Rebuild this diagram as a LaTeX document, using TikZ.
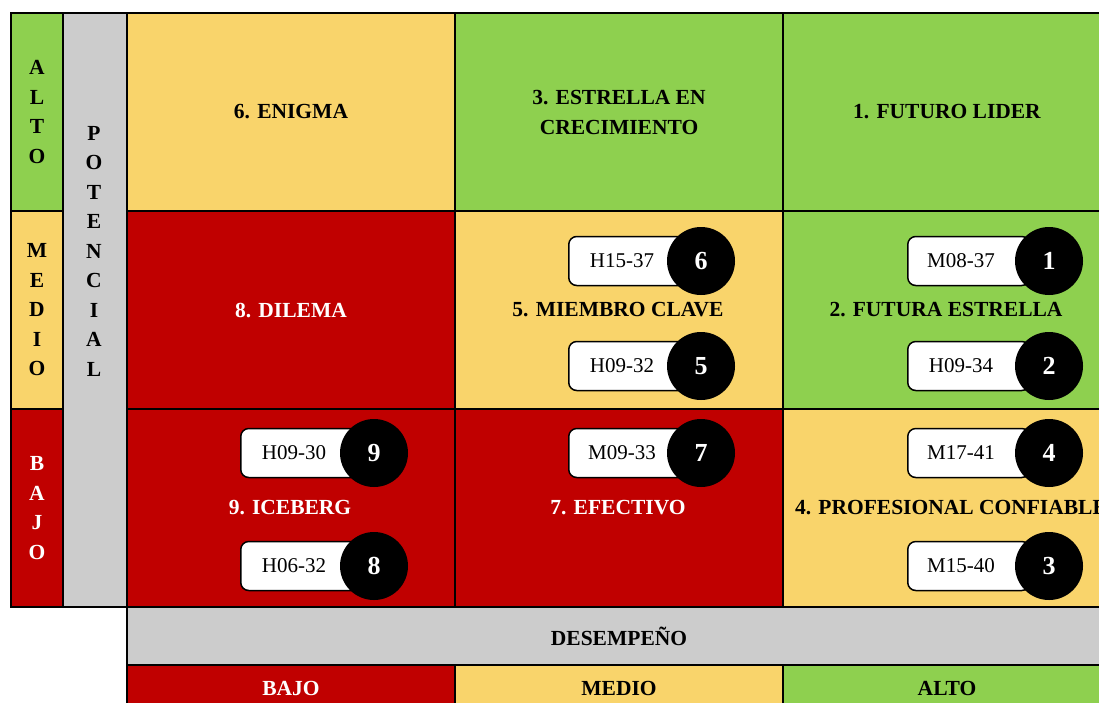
\documentclass[tikz,border=0pt]{standalone}
\usepackage{fontspec}
\setmainfont{Liberation Serif}
\definecolor{cgreen}{HTML}{8ED04F}
\definecolor{cyellow}{HTML}{F9D46B}
\definecolor{cred}{HTML}{C00000}
\definecolor{cgray}{HTML}{CCCCCC}
\tikzset{
  cellbox/.style={draw=black, line width=1.3pt},
  lbl/.style={font=\fontsize{21.5}{29.5}\selectfont\bfseries, align=center, inner sep=0pt},
  tagbox/.style={draw=black, fill=white, line width=1.5pt, rounded corners=8pt,
    minimum width=122pt, minimum height=49pt, anchor=west, inner sep=0pt},
  tagtxt/.style={font=\fontsize{21}{24}\selectfont, inner sep=0pt},
  tagnum/.style={circle, fill=black, minimum size=68pt, inner sep=0pt, text=white,
    font=\fontsize{26}{28}\selectfont\bfseries},
}
\newcommand{\mytag}[6]{%
  \node[tagbox] (b#1) at (#2,#3) {};
  \node[tagtxt] (t#1) at (#2+54,#3) {#5};
  \node[tagnum] (c#1) at (#4,#3) {#6};
}
\begin{document}
\begin{tikzpicture}[x=1pt,y=-1pt]
\useasboundingbox (0,0) rectangle (1099,702);
\clip (0,0) rectangle (1099,702);
% left level column
\path[cellbox, fill=cgreen] (11,13) rectangle (63,211);
\path[cellbox, fill=cyellow] (11,211) rectangle (63,409);
\path[cellbox, fill=cred] (11,409) rectangle (63,607);
% potencial column
\path[cellbox, fill=cgray] (63,13) rectangle (127,607);
% grid
\path[cellbox, fill=cyellow] (127,13) rectangle (455,211);
\path[cellbox, fill=cgreen] (455,13) rectangle (783,211);
\path[cellbox, fill=cgreen] (783,13) rectangle (1111,211);
\path[cellbox, fill=cred] (127,211) rectangle (455,409);
\path[cellbox, fill=cyellow] (455,211) rectangle (783,409);
\path[cellbox, fill=cgreen] (783,211) rectangle (1111,409);
\path[cellbox, fill=cred] (127,409) rectangle (455,607);
\path[cellbox, fill=cred] (455,409) rectangle (783,607);
\path[cellbox, fill=cyellow] (783,409) rectangle (1111,607);
% desempeno
\path[cellbox, fill=cgray] (127,607) rectangle (1111,665);
\path[cellbox, fill=cred] (127,665) rectangle (455,720);
\path[cellbox, fill=cyellow] (455,665) rectangle (783,720);
\path[cellbox, fill=cgreen] (783,665) rectangle (1111,720);

% vertical labels
\node[lbl] (lalto) at (37,112) {A\\L\\T\\O};
\node[lbl] (lmedio) at (37,310) {M\\E\\D\\I\\O};
\node[lbl, text=white] (lbajo) at (37,508) {B\\A\\J\\O};
\node[lbl] (lpot) at (94,251) {P\\O\\T\\E\\N\\C\\I\\A\\L};

% cell labels
\node[lbl] (n6) at (291,112) {6. ENIGMA};
\node[lbl] (n3) at (619,112.5) {3. ESTRELLA EN\\CRECIMIENTO};
\node[lbl] (n1) at (947,112) {1. FUTURO LIDER};
\node[lbl, text=white] (n8) at (291,310) {8. DILEMA};
\node[lbl] (n5) at (618,310) {5. MIEMBRO CLAVE};
\node[lbl] (n2) at (946,310) {2. FUTURA ESTRELLA};
\node[lbl, text=white] (n9) at (290,508) {9. ICEBERG};
\node[lbl, text=white] (n7) at (618,508) {7. EFECTIVO};
\node[lbl] (n4) at (951,508) {4. PROFESIONAL CONFIABLE};

% axis labels
\node[lbl] (des) at (619,636) {DESEMPEÑO};
\node[lbl, text=white] (xbajo) at (291,688) {BAJO};
\node[lbl] (xmedio) at (619,688) {MEDIO};
\node[lbl] (xalto) at (947,688) {ALTO};

% tags
\mytag{6}{568}{261}{701}{H15-37}{6}
\mytag{5}{568}{366}{701}{H09-32}{5}
\mytag{7}{568}{453}{701}{M09-33}{7}
\mytag{1}{907}{261}{1049}{M08-37}{1}
\mytag{2}{907}{366}{1049}{H09-34}{2}
\mytag{4}{907}{453}{1049}{M17-41}{4}
\mytag{3}{907}{566}{1049}{M15-40}{3}
\mytag{9}{240}{453}{374}{H09-30}{9}
\mytag{8}{240}{566}{374}{H06-32}{8}
\end{tikzpicture}
\end{document}
